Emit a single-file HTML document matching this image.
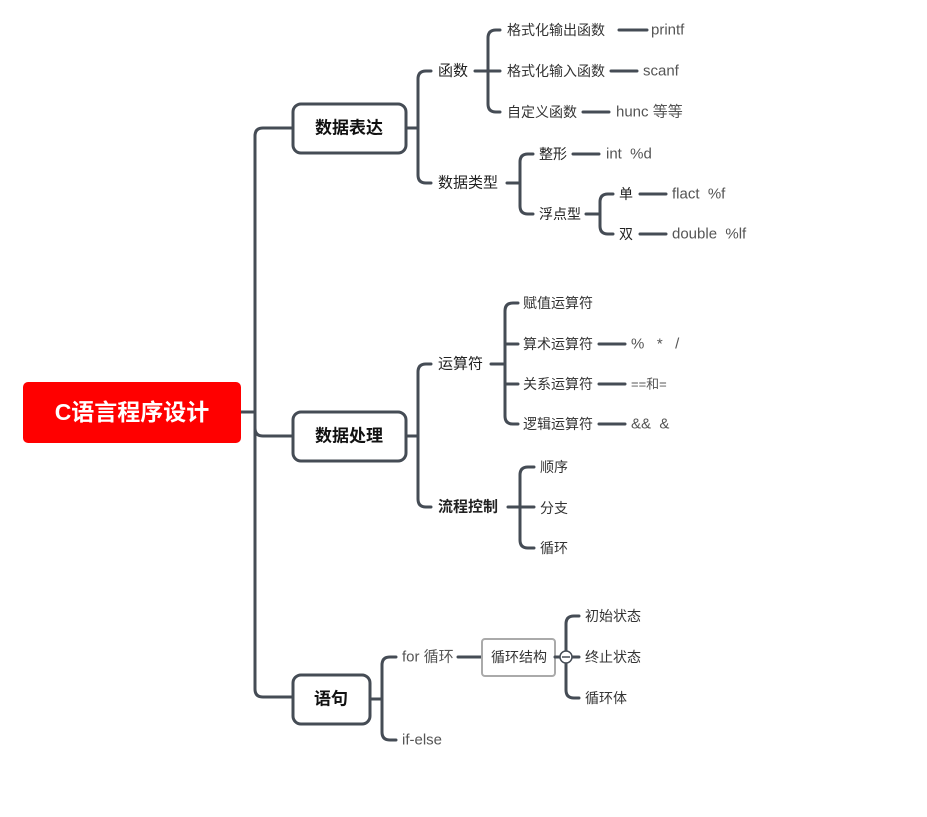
<!DOCTYPE html>
<html><head><meta charset="utf-8"><style>
html,body{margin:0;padding:0;background:#fff;width:927px;height:817px;overflow:hidden}
svg text{font-family:"Liberation Sans","Noto Sans CJK SC",sans-serif;dominant-baseline:central;white-space:pre}
.l{fill:none;stroke:#454c55;stroke-width:3;stroke-linecap:round;stroke-linejoin:round}
.t2{font-size:15px;fill:#222}
.t3{font-size:14px;fill:#333}
.lf{font-size:15px;fill:#555}
.b{font-size:17px;font-weight:bold;fill:#111;text-anchor:middle}
</style></head><body>
<svg width="927" height="817" viewBox="0 0 927 817" xmlns="http://www.w3.org/2000/svg" xml:space="preserve">
<path class="l" d="M293 128 H263 Q255 128 255 136 V689 Q255 697 263 697 H293"/>
<path class="l" d="M241 412 H255"/>
<path class="l" d="M255 428 Q255 436 263 436 H293"/>
<rect x="23" y="382" width="218" height="61" rx="5" fill="#ff0000"/>
<text x="132" y="412" font-size="23" font-weight="bold" fill="#fff" text-anchor="middle">C语言程序设计</text>

<path class="l" d="M406 128 H418"/>
<path class="l" d="M431 71 H426 Q418 71 418 79 V175 Q418 183 426 183 H431"/>
<rect x="293" y="104" width="113" height="49" rx="8" fill="#fff" stroke="#454c55" stroke-width="3"/>
<text class="b" x="349" y="128">数据表达</text>
<text class="t2" x="438" y="71">函数</text>
<path class="l" d="M475 71 H500"/>
<path class="l" d="M500 30 H496 Q488 30 488 38 V104 Q488 112 496 112 H500"/>
<text class="t3" x="507" y="30">格式化输出函数</text>
<text class="t3" x="507" y="71">格式化输入函数</text>
<text class="t3" x="507" y="112">自定义函数</text>
<path class="l" d="M619 30 H647"/><text class="lf" x="651" y="30">printf</text>
<path class="l" d="M611 71 H637"/><text class="lf" x="643" y="71">scanf</text>
<path class="l" d="M583 112 H609"/><text class="lf" x="616" y="112">hunc 等等</text>

<text class="t2" x="438" y="183">数据类型</text>
<path class="l" d="M507 183 H520"/>
<path class="l" d="M533 154 H528 Q520 154 520 162 V206 Q520 214 528 214 H533"/>
<text class="t2" x="539" y="154" style="font-size:14px">整形</text>
<path class="l" d="M573 154 H599"/><text class="lf" x="606" y="154">int  %d</text>
<text class="t2" x="539" y="214" style="font-size:14px">浮点型</text>
<path class="l" d="M586 214 H600"/>
<path class="l" d="M613 194 H608 Q600 194 600 202 V226 Q600 234 608 234 H613"/>
<text class="t2" x="619" y="194" style="font-size:14px">单</text>
<text class="t2" x="619" y="234" style="font-size:14px">双</text>
<path class="l" d="M640 194 H666"/><text class="lf" x="672" y="194">flact  %f</text>
<path class="l" d="M640 234 H666"/><text class="lf" x="672" y="234">double  %lf</text>

<path class="l" d="M406 436 H418"/>
<path class="l" d="M431 364 H426 Q418 364 418 372 V499 Q418 507 426 507 H431"/>
<rect x="293" y="412" width="113" height="49" rx="8" fill="#fff" stroke="#454c55" stroke-width="3"/>
<text class="b" x="349" y="436">数据处理</text>
<text class="t2" x="438" y="364">运算符</text>
<path class="l" d="M491 364 H505"/>
<path class="l" d="M518 303 H513 Q505 303 505 311 V416 Q505 424 513 424 H518"/>
<path class="l" d="M505 344 H518 M505 384 H518"/>
<text class="t3" x="523" y="303">赋值运算符</text>
<text class="t3" x="523" y="344">算术运算符</text>
<text class="t3" x="523" y="384">关系运算符</text>
<text class="t3" x="523" y="424">逻辑运算符</text>
<path class="l" d="M599 344 H625"/><text class="lf" x="631" y="344">%   *   /</text>
<path class="l" d="M599 384 H625"/><text class="lf" x="631" y="384" style="font-size:13px">==和=</text>
<path class="l" d="M599 424 H625"/><text class="lf" x="631" y="424">&amp;&amp;  &amp;</text>

<text class="t2" x="438" y="507" style="font-weight:bold">流程控制</text>
<path class="l" d="M508 507 H534"/>
<path class="l" d="M534 467 H528 Q520 467 520 475 V540 Q520 548 528 548 H534"/>
<text class="t3" x="540" y="467">顺序</text>
<text class="t3" x="540" y="508">分支</text>
<text class="t3" x="540" y="548">循环</text>

<path class="l" d="M370 699 H382"/>
<path class="l" d="M396 657 H390 Q382 657 382 665 V732 Q382 740 390 740 H396"/>
<rect x="293" y="675" width="77" height="49" rx="8" fill="#fff" stroke="#454c55" stroke-width="3"/>
<text class="b" x="331" y="699">语句</text>
<text class="lf" x="402" y="657">for 循环</text>
<text class="lf" x="402" y="740">if-else</text>
<path class="l" d="M458 657 H482"/>
<rect x="482" y="639" width="73" height="37" rx="3" fill="#fff" stroke="#aaa" stroke-width="2"/>
<text class="t3" x="491" y="657">循环结构</text>
<path class="l" d="M555 657 H579"/>
<path class="l" d="M579 616 H574 Q566 616 566 624 V690 Q566 698 574 698 H579"/>
<circle cx="566" cy="657" r="6" fill="#fff" stroke="#454c55" stroke-width="1.5"/>
<path d="M562 657 H570" stroke="#454c55" stroke-width="1.5"/>
<text class="t3" x="585" y="616">初始状态</text>
<text class="t3" x="585" y="657">终止状态</text>
<text class="t3" x="585" y="698">循环体</text>
</svg>
</body></html>
